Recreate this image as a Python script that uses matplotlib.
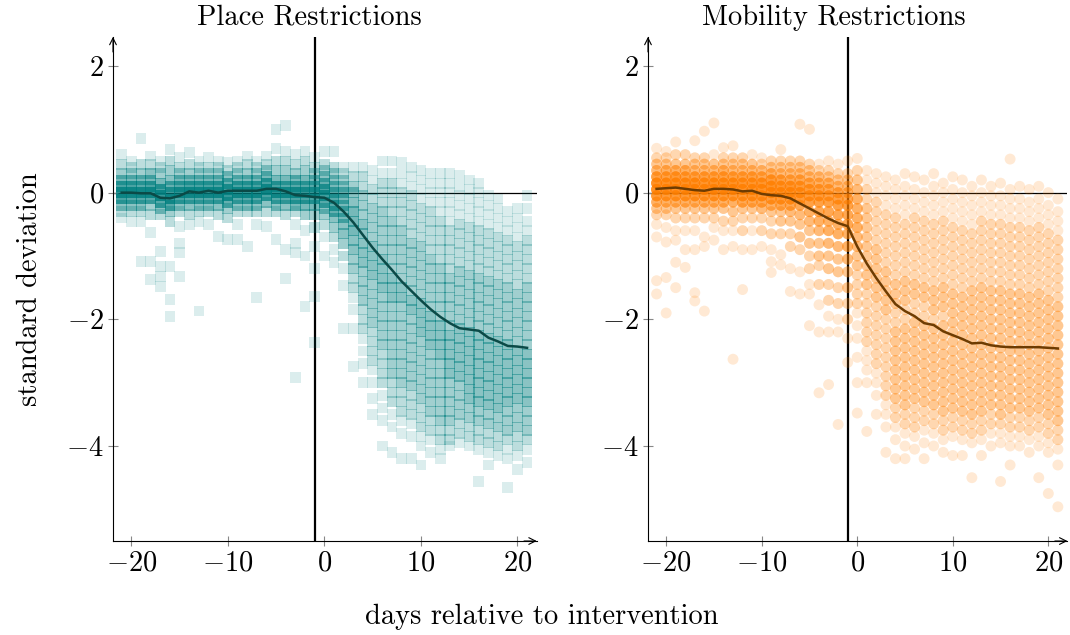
import matplotlib
matplotlib.use("Agg")
import matplotlib.pyplot as plt

plt.rcParams["font.family"] = "cmr10"
plt.rcParams["mathtext.fontset"] = "cm"
plt.rcParams["axes.unicode_minus"] = False

days = list(range(-21, 22))

# (value, how many overlapping marks at that value), one row per day -21..21
place_points = [
    [(0.6, 1), (0.45, 2), (0.3, 3), (0.2, 5), (0.1, 8), (0.0, 10), (-0.1, 8), (-0.2, 4), (-0.3, 2), (-0.4, 1)],
    [(0.5, 1), (0.4, 2), (0.3, 3), (0.2, 5), (0.1, 8), (0.0, 10), (-0.1, 7), (-0.2, 4), (-0.3, 2), (-0.45, 1)],
    [(0.86, 1), (0.45, 2), (0.3, 3), (0.2, 5), (0.1, 7), (0.0, 10), (-0.1, 7), (-0.2, 4), (-0.3, 2), (-0.45, 1), (-1.09, 1)],
    [(0.58, 1), (0.45, 2), (0.3, 4), (0.2, 5), (0.1, 8), (0.0, 10), (-0.1, 7), (-0.2, 3), (-0.35, 2), (-0.63, 1), (-1.09, 1), (-1.37, 1)],
    [(0.5, 1), (0.4, 2), (0.3, 3), (0.15, 5), (0.05, 8), (-0.05, 10), (-0.15, 7), (-0.25, 4), (-0.35, 2), (-0.93, 1), (-1.16, 1), (-1.32, 1), (-1.48, 1)],
    [(0.68, 1), (0.5, 2), (0.35, 3), (0.2, 4), (0.1, 6), (0.0, 8), (-0.1, 10), (-0.2, 7), (-0.3, 3), (-0.45, 2), (-1.16, 1), (-1.69, 1), (-1.95, 1)],
    [(0.55, 1), (0.4, 2), (0.3, 3), (0.2, 5), (0.1, 7), (0.0, 10), (-0.1, 8), (-0.2, 4), (-0.3, 2), (-0.54, 1), (-0.8, 1), (-0.95, 1), (-1.32, 1)],
    [(0.63, 1), (0.45, 2), (0.3, 3), (0.2, 5), (0.1, 8), (0.0, 10), (-0.1, 7), (-0.2, 4), (-0.35, 2), (-0.5, 1)],
    [(0.5, 1), (0.4, 2), (0.3, 3), (0.2, 5), (0.1, 8), (0.0, 10), (-0.1, 7), (-0.2, 4), (-0.3, 2), (-0.45, 1), (-1.87, 1)],
    [(0.55, 1), (0.4, 2), (0.3, 3), (0.2, 5), (0.1, 8), (0.0, 10), (-0.1, 7), (-0.2, 4), (-0.3, 2), (-0.5, 1)],
    [(0.5, 1), (0.4, 2), (0.3, 3), (0.2, 5), (0.1, 8), (0.0, 10), (-0.1, 7), (-0.2, 4), (-0.35, 2), (-0.69, 1)],
    [(0.47, 1), (0.35, 2), (0.25, 4), (0.15, 6), (0.05, 9), (-0.05, 10), (-0.15, 6), (-0.25, 3), (-0.4, 2), (-0.74, 1)],
    [(0.5, 1), (0.4, 2), (0.3, 3), (0.2, 5), (0.1, 8), (0.0, 10), (-0.1, 7), (-0.2, 4), (-0.3, 2), (-0.5, 1), (-0.74, 1)],
    [(0.58, 1), (0.45, 2), (0.3, 3), (0.2, 5), (0.1, 8), (0.0, 10), (-0.1, 7), (-0.2, 4), (-0.3, 2), (-0.85, 1)],
    [(0.5, 1), (0.4, 2), (0.3, 3), (0.2, 5), (0.1, 8), (0.0, 10), (-0.1, 7), (-0.2, 4), (-0.3, 2), (-0.5, 1), (-1.66, 1)],
    [(0.58, 1), (0.45, 2), (0.35, 3), (0.25, 5), (0.15, 8), (0.05, 10), (-0.05, 8), (-0.15, 4), (-0.3, 2), (-0.53, 1)],
    [(1.0, 1), (0.7, 1), (0.5, 2), (0.35, 3), (0.2, 5), (0.1, 8), (0.0, 10), (-0.1, 7), (-0.2, 4), (-0.3, 2), (-0.74, 1)],
    [(1.06, 1), (0.65, 1), (0.5, 2), (0.35, 3), (0.2, 5), (0.1, 7), (0.0, 10), (-0.1, 7), (-0.2, 4), (-0.35, 2), (-0.9, 1), (-1.35, 1)],
    [(0.6, 1), (0.45, 2), (0.3, 3), (0.2, 5), (0.1, 7), (0.0, 10), (-0.1, 8), (-0.2, 5), (-0.3, 2), (-0.5, 1), (-0.8, 1), (-0.95, 1), (-2.92, 1)],
    [(0.65, 1), (0.5, 2), (0.35, 3), (0.2, 5), (0.1, 7), (0.0, 9), (-0.1, 8), (-0.2, 5), (-0.35, 3), (-0.6, 1), (-1.0, 1), (-1.8, 1)],
    [(0.55, 1), (0.4, 2), (0.3, 3), (0.2, 5), (0.1, 7), (0.0, 9), (-0.1, 8), (-0.2, 5), (-0.35, 3), (-0.55, 2), (-0.85, 1), (-1.2, 1), (-1.64, 1), (-2.37, 1)],
    [(0.65, 1), (0.45, 2), (0.35, 3), (0.25, 4), (0.15, 6), (0.05, 8), (-0.05, 9), (-0.15, 7), (-0.25, 4), (-0.35, 3), (-0.5, 2), (-0.7, 1), (-1.0, 1)],
    [(0.65, 1), (0.4, 2), (0.3, 3), (0.2, 4), (0.1, 5), (0.0, 6), (-0.1, 7), (-0.2, 7), (-0.3, 6), (-0.4, 4), (-0.55, 3), (-0.7, 2), (-0.9, 1), (-1.1, 1)],
    [(0.4, 1), (0.3, 2), (0.2, 3), (0.1, 4), (0.0, 5), (-0.1, 5), (-0.2, 5), (-0.3, 5), (-0.4, 5), (-0.5, 4), (-0.65, 4), (-0.8, 3), (-1.0, 2), (-1.2, 1), (-1.47, 1), (-2.15, 1)],
    [(0.4, 1), (0.25, 2), (0.1, 3), (0.0, 4), (-0.15, 4), (-0.3, 5), (-0.45, 5), (-0.6, 5), (-0.75, 4), (-0.9, 4), (-1.05, 3), (-1.2, 3), (-1.35, 2), (-1.5, 2), (-1.65, 1), (-1.85, 1), (-2.15, 1), (-2.74, 1)],
    [(0.4, 1), (0.25, 2), (0.1, 2), (-0.05, 3), (-0.2, 3), (-0.35, 3), (-0.5, 4), (-0.65, 4), (-0.8, 4), (-0.95, 4), (-1.1, 4), (-1.25, 3), (-1.4, 3), (-1.55, 3), (-1.7, 3), (-1.85, 2), (-2.0, 2), (-2.15, 2), (-2.3, 1), (-2.5, 1), (-2.7, 1), (-3.0, 1)],
    [(0.35, 1), (0.2, 1), (0.05, 2), (-0.1, 2), (-0.25, 3), (-0.4, 3), (-0.55, 3), (-0.7, 3), (-0.85, 4), (-1.0, 4), (-1.15, 4), (-1.3, 4), (-1.45, 3), (-1.6, 3), (-1.75, 3), (-1.9, 3), (-2.05, 3), (-2.2, 2), (-2.35, 2), (-2.5, 2), (-2.65, 2), (-2.8, 1), (-3.0, 1), (-3.25, 1), (-3.5, 1)],
    [(0.5, 1), (0.3, 1), (0.15, 2), (0.0, 2), (-0.15, 2), (-0.3, 3), (-0.45, 3), (-0.6, 3), (-0.75, 3), (-0.9, 3), (-1.05, 4), (-1.2, 4), (-1.35, 4), (-1.5, 4), (-1.65, 3), (-1.8, 3), (-1.95, 3), (-2.1, 3), (-2.25, 3), (-2.4, 3), (-2.55, 2), (-2.7, 2), (-2.85, 2), (-3.0, 2), (-3.2, 1), (-3.4, 1), (-3.6, 1), (-4.0, 1)],
    [(0.5, 1), (0.3, 1), (0.15, 2), (0.0, 2), (-0.15, 2), (-0.3, 2), (-0.45, 3), (-0.6, 3), (-0.75, 3), (-0.9, 3), (-1.05, 3), (-1.2, 3), (-1.35, 4), (-1.5, 4), (-1.65, 4), (-1.8, 3), (-1.95, 3), (-2.1, 3), (-2.25, 3), (-2.4, 3), (-2.55, 3), (-2.7, 3), (-2.85, 3), (-3.0, 2), (-3.15, 2), (-3.3, 2), (-3.5, 1), (-3.7, 1), (-4.1, 1)],
    [(0.47, 1), (0.3, 1), (0.15, 1), (0.0, 2), (-0.15, 2), (-0.3, 2), (-0.45, 2), (-0.6, 3), (-0.75, 3), (-0.9, 3), (-1.05, 3), (-1.2, 3), (-1.35, 3), (-1.5, 4), (-1.65, 4), (-1.8, 3), (-1.95, 3), (-2.1, 3), (-2.25, 3), (-2.4, 3), (-2.55, 3), (-2.7, 3), (-2.85, 3), (-3.0, 3), (-3.15, 2), (-3.3, 2), (-3.45, 2), (-3.6, 1), (-3.8, 1), (-4.2, 1)],
    [(0.4, 1), (0.25, 1), (0.1, 1), (-0.05, 2), (-0.2, 2), (-0.35, 2), (-0.5, 2), (-0.65, 2), (-0.8, 3), (-0.95, 3), (-1.1, 3), (-1.25, 3), (-1.4, 3), (-1.55, 3), (-1.7, 4), (-1.85, 4), (-2.0, 3), (-2.15, 3), (-2.3, 3), (-2.45, 3), (-2.6, 3), (-2.75, 3), (-2.9, 3), (-3.05, 3), (-3.2, 2), (-3.35, 2), (-3.5, 2), (-3.65, 1), (-3.85, 1), (-4.2, 1)],
    [(0.35, 1), (0.2, 1), (0.05, 1), (-0.1, 1), (-0.25, 2), (-0.4, 2), (-0.55, 2), (-0.7, 2), (-0.85, 3), (-1.0, 3), (-1.15, 3), (-1.3, 3), (-1.45, 3), (-1.6, 3), (-1.75, 4), (-1.9, 4), (-2.05, 4), (-2.2, 4), (-2.35, 3), (-2.5, 3), (-2.65, 3), (-2.8, 3), (-2.95, 3), (-3.1, 3), (-3.25, 3), (-3.4, 2), (-3.55, 2), (-3.7, 2), (-3.85, 1), (-4.0, 1), (-4.3, 1)],
    [(0.3, 1), (0.15, 1), (0.0, 1), (-0.15, 1), (-0.3, 2), (-0.45, 2), (-0.6, 2), (-0.75, 2), (-0.9, 2), (-1.05, 3), (-1.2, 3), (-1.35, 3), (-1.5, 3), (-1.65, 3), (-1.8, 3), (-1.95, 4), (-2.1, 4), (-2.25, 4), (-2.4, 4), (-2.55, 3), (-2.7, 3), (-2.85, 3), (-3.0, 3), (-3.15, 3), (-3.3, 3), (-3.45, 3), (-3.6, 2), (-3.75, 2), (-3.9, 1), (-4.1, 1)],
    [(0.3, 1), (0.15, 1), (0.0, 1), (-0.15, 1), (-0.3, 1), (-0.45, 2), (-0.6, 2), (-0.75, 2), (-0.9, 2), (-1.05, 2), (-1.2, 3), (-1.35, 3), (-1.5, 3), (-1.65, 3), (-1.8, 3), (-1.95, 3), (-2.1, 4), (-2.25, 4), (-2.4, 4), (-2.55, 4), (-2.7, 3), (-2.85, 3), (-3.0, 3), (-3.15, 3), (-3.3, 3), (-3.45, 3), (-3.6, 3), (-3.75, 2), (-3.9, 2), (-4.05, 1), (-4.2, 1)],
    [(0.3, 1), (0.15, 1), (0.0, 1), (-0.15, 1), (-0.3, 1), (-0.45, 1), (-0.6, 2), (-0.75, 2), (-0.9, 2), (-1.05, 2), (-1.2, 2), (-1.35, 3), (-1.5, 3), (-1.65, 3), (-1.8, 3), (-1.95, 3), (-2.1, 3), (-2.25, 4), (-2.4, 4), (-2.55, 4), (-2.7, 4), (-2.85, 4), (-3.0, 3), (-3.15, 3), (-3.3, 3), (-3.45, 3), (-3.6, 3), (-3.75, 2), (-3.9, 2), (-4.0, 1)],
    [(0.27, 1), (0.1, 1), (-0.05, 1), (-0.2, 1), (-0.35, 1), (-0.5, 2), (-0.65, 2), (-0.8, 2), (-0.95, 2), (-1.1, 2), (-1.25, 3), (-1.4, 3), (-1.55, 3), (-1.7, 3), (-1.85, 3), (-2.0, 3), (-2.15, 4), (-2.3, 4), (-2.45, 4), (-2.6, 4), (-2.75, 4), (-2.9, 4), (-3.05, 3), (-3.2, 3), (-3.35, 3), (-3.5, 3), (-3.65, 2), (-3.8, 2), (-3.95, 1)],
    [(0.2, 1), (0.05, 1), (-0.1, 1), (-0.25, 1), (-0.4, 1), (-0.55, 2), (-0.7, 2), (-0.85, 2), (-1.0, 2), (-1.15, 2), (-1.3, 3), (-1.45, 3), (-1.6, 3), (-1.75, 3), (-1.9, 3), (-2.05, 3), (-2.2, 4), (-2.35, 4), (-2.5, 4), (-2.65, 4), (-2.8, 4), (-2.95, 4), (-3.1, 4), (-3.25, 4), (-3.4, 3), (-3.55, 3), (-3.7, 2), (-3.85, 2), (-4.0, 1)],
    [(0.15, 1), (0.0, 1), (-0.15, 1), (-0.3, 1), (-0.45, 1), (-0.6, 2), (-0.75, 2), (-0.9, 2), (-1.05, 2), (-1.2, 2), (-1.35, 3), (-1.5, 3), (-1.65, 3), (-1.8, 3), (-1.95, 3), (-2.1, 3), (-2.25, 4), (-2.4, 4), (-2.55, 4), (-2.7, 4), (-2.85, 4), (-3.0, 4), (-3.15, 4), (-3.3, 4), (-3.45, 3), (-3.6, 3), (-3.75, 2), (-3.9, 2), (-4.05, 1), (-4.56, 1)],
    [(-0.05, 1), (-0.2, 1), (-0.35, 1), (-0.5, 1), (-0.65, 2), (-0.8, 2), (-0.95, 2), (-1.1, 2), (-1.25, 2), (-1.4, 3), (-1.55, 3), (-1.7, 3), (-1.85, 3), (-2.0, 3), (-2.15, 3), (-2.3, 4), (-2.45, 4), (-2.6, 4), (-2.75, 4), (-2.9, 4), (-3.05, 4), (-3.2, 4), (-3.35, 4), (-3.5, 3), (-3.65, 3), (-3.8, 2), (-3.95, 2), (-4.1, 1), (-4.3, 1)],
    [(-0.1, 1), (-0.25, 1), (-0.4, 1), (-0.55, 1), (-0.7, 2), (-0.85, 2), (-1.0, 2), (-1.15, 2), (-1.3, 2), (-1.45, 3), (-1.6, 3), (-1.75, 3), (-1.9, 3), (-2.05, 3), (-2.2, 3), (-2.35, 4), (-2.5, 4), (-2.65, 4), (-2.8, 4), (-2.95, 4), (-3.1, 4), (-3.25, 4), (-3.4, 4), (-3.55, 3), (-3.7, 3), (-3.85, 2), (-4.0, 2), (-4.15, 1)],
    [(-0.3, 1), (-0.45, 1), (-0.6, 1), (-0.75, 2), (-0.9, 2), (-1.05, 2), (-1.2, 2), (-1.35, 2), (-1.5, 3), (-1.65, 3), (-1.8, 3), (-1.95, 3), (-2.1, 3), (-2.25, 3), (-2.4, 4), (-2.55, 4), (-2.7, 4), (-2.85, 4), (-3.0, 4), (-3.15, 4), (-3.3, 4), (-3.45, 3), (-3.6, 3), (-3.75, 3), (-3.9, 2), (-4.05, 1), (-4.2, 1), (-4.65, 1)],
    [(-0.25, 1), (-0.4, 1), (-0.55, 1), (-0.7, 1), (-0.85, 2), (-1.0, 2), (-1.15, 2), (-1.3, 2), (-1.45, 2), (-1.6, 3), (-1.75, 3), (-1.9, 3), (-2.05, 3), (-2.2, 3), (-2.35, 3), (-2.5, 4), (-2.65, 4), (-2.8, 4), (-2.95, 4), (-3.1, 4), (-3.25, 4), (-3.4, 3), (-3.55, 3), (-3.7, 3), (-3.85, 2), (-4.0, 2), (-4.15, 1), (-4.37, 1)],
    [(-0.05, 1), (-0.25, 1), (-0.45, 1), (-0.6, 1), (-0.75, 2), (-0.9, 2), (-1.05, 2), (-1.2, 2), (-1.35, 2), (-1.5, 3), (-1.65, 3), (-1.8, 3), (-1.95, 3), (-2.1, 3), (-2.25, 3), (-2.4, 3), (-2.55, 4), (-2.7, 4), (-2.85, 4), (-3.0, 4), (-3.15, 4), (-3.3, 4), (-3.45, 3), (-3.6, 3), (-3.75, 3), (-3.9, 2), (-4.05, 1), (-4.26, 1)],
]

mobility_points = [
    [(0.7, 1), (0.55, 2), (0.45, 3), (0.35, 4), (0.25, 7), (0.15, 10), (0.05, 10), (-0.05, 8), (-0.15, 5), (-0.25, 3), (-0.35, 2), (-0.5, 1), (-0.7, 1), (-1.39, 1), (-1.6, 1)],
    [(0.65, 1), (0.55, 2), (0.45, 3), (0.35, 5), (0.25, 7), (0.15, 10), (0.05, 10), (-0.05, 8), (-0.15, 5), (-0.25, 3), (-0.35, 2), (-0.55, 1), (-0.78, 1), (-1.34, 1), (-1.9, 1)],
    [(0.8, 1), (0.6, 2), (0.45, 3), (0.35, 5), (0.25, 8), (0.15, 10), (0.05, 10), (-0.05, 8), (-0.15, 5), (-0.25, 3), (-0.4, 2), (-0.6, 1), (-0.75, 1), (-1.1, 1), (-1.5, 1)],
    [(0.6, 2), (0.45, 3), (0.35, 5), (0.25, 7), (0.15, 10), (0.05, 10), (-0.05, 8), (-0.15, 5), (-0.25, 3), (-0.4, 2), (-0.6, 1), (-0.9, 1), (-1.18, 1)],
    [(0.82, 1), (0.55, 2), (0.45, 3), (0.35, 4), (0.25, 7), (0.15, 10), (0.05, 10), (-0.05, 8), (-0.15, 5), (-0.25, 3), (-0.4, 2), (-0.6, 1), (-0.9, 1), (-1.58, 1), (-1.71, 1)],
    [(0.97, 1), (0.55, 2), (0.45, 3), (0.35, 4), (0.25, 7), (0.15, 9), (0.05, 10), (-0.05, 8), (-0.15, 5), (-0.25, 3), (-0.4, 2), (-0.7, 1), (-0.85, 1), (-1.87, 1)],
    [(1.1, 1), (0.6, 1), (0.45, 3), (0.35, 4), (0.25, 7), (0.15, 10), (0.05, 10), (-0.05, 8), (-0.15, 5), (-0.25, 3), (-0.4, 2), (-0.55, 1), (-0.75, 1)],
    [(0.71, 1), (0.55, 2), (0.45, 3), (0.35, 5), (0.25, 7), (0.15, 10), (0.05, 10), (-0.05, 8), (-0.15, 5), (-0.25, 3), (-0.45, 2), (-0.6, 1), (-0.9, 1)],
    [(0.74, 1), (0.55, 2), (0.45, 3), (0.35, 4), (0.25, 7), (0.15, 10), (0.05, 10), (-0.05, 8), (-0.15, 5), (-0.3, 3), (-0.45, 2), (-0.6, 1), (-0.85, 1), (-2.63, 1)],
    [(0.55, 2), (0.45, 3), (0.35, 4), (0.25, 7), (0.15, 9), (0.05, 10), (-0.05, 8), (-0.15, 6), (-0.25, 3), (-0.4, 2), (-0.6, 2), (-0.9, 1), (-1.53, 1)],
    [(0.6, 1), (0.45, 3), (0.35, 4), (0.25, 7), (0.15, 9), (0.05, 10), (-0.05, 9), (-0.15, 6), (-0.25, 3), (-0.4, 2), (-0.6, 1), (-0.9, 1)],
    [(0.55, 1), (0.45, 2), (0.35, 4), (0.25, 6), (0.15, 9), (0.05, 10), (-0.05, 9), (-0.15, 6), (-0.25, 4), (-0.4, 2), (-0.6, 2), (-0.85, 1)],
    [(0.5, 2), (0.4, 3), (0.3, 5), (0.2, 8), (0.1, 10), (0.0, 10), (-0.1, 8), (-0.2, 5), (-0.3, 3), (-0.45, 2), (-0.65, 2), (-0.9, 1), (-1.09, 1), (-1.26, 1)],
    [(0.68, 1), (0.5, 2), (0.4, 3), (0.3, 4), (0.2, 7), (0.1, 9), (0.0, 10), (-0.1, 8), (-0.2, 6), (-0.3, 3), (-0.45, 3), (-0.65, 2), (-0.98, 1), (-1.14, 1)],
    [(0.5, 2), (0.4, 3), (0.3, 4), (0.2, 6), (0.1, 9), (0.0, 10), (-0.1, 8), (-0.2, 6), (-0.3, 4), (-0.45, 3), (-0.65, 2), (-0.85, 2), (-1.2, 1), (-1.56, 1)],
    [(1.08, 1), (0.5, 2), (0.4, 3), (0.3, 4), (0.2, 6), (0.1, 8), (0.0, 9), (-0.1, 8), (-0.2, 6), (-0.35, 4), (-0.5, 3), (-0.7, 3), (-0.9, 2), (-1.25, 1), (-1.6, 1)],
    [(1.0, 1), (0.45, 2), (0.35, 3), (0.25, 4), (0.15, 6), (0.05, 8), (-0.05, 8), (-0.15, 7), (-0.3, 5), (-0.45, 4), (-0.6, 3), (-0.8, 3), (-1.0, 2), (-1.2, 2), (-1.45, 1), (-1.6, 1), (-2.1, 1)],
    [(0.45, 1), (0.35, 2), (0.25, 4), (0.15, 5), (0.05, 7), (-0.05, 8), (-0.15, 7), (-0.3, 6), (-0.45, 5), (-0.6, 4), (-0.8, 3), (-1.0, 3), (-1.15, 2), (-1.45, 2), (-1.77, 1), (-2.2, 1), (-3.16, 1)],
    [(0.5, 1), (0.35, 2), (0.25, 3), (0.15, 5), (0.05, 6), (-0.05, 7), (-0.15, 7), (-0.3, 6), (-0.45, 5), (-0.6, 5), (-0.8, 4), (-1.0, 3), (-1.2, 3), (-1.45, 2), (-1.7, 2), (-1.95, 1), (-2.2, 1), (-3.03, 1)],
    [(0.45, 1), (0.3, 2), (0.2, 3), (0.1, 4), (0.0, 6), (-0.1, 7), (-0.2, 7), (-0.35, 6), (-0.5, 5), (-0.65, 5), (-0.85, 4), (-1.05, 3), (-1.25, 3), (-1.5, 2), (-1.75, 2), (-2.0, 1), (-2.2, 1), (-3.66, 1)],
    [(0.5, 1), (0.3, 2), (0.2, 3), (0.1, 4), (0.0, 5), (-0.1, 6), (-0.2, 7), (-0.35, 6), (-0.5, 6), (-0.65, 5), (-0.85, 5), (-1.05, 4), (-1.25, 3), (-1.5, 3), (-1.75, 2), (-2.0, 2), (-2.3, 1), (-2.68, 1)],
    [(0.54, 1), (0.35, 2), (0.2, 3), (0.05, 4), (-0.1, 5), (-0.25, 5), (-0.4, 5), (-0.55, 5), (-0.7, 4), (-0.85, 4), (-1.0, 3), (-1.15, 3), (-1.3, 2), (-1.45, 2), (-1.6, 2), (-1.75, 2), (-1.9, 1), (-2.1, 1), (-2.3, 1), (-2.6, 1), (-3.0, 1), (-3.48, 1)],
    [(0.35, 1), (0.2, 1), (0.05, 2), (-0.1, 2), (-0.25, 3), (-0.4, 3), (-0.55, 3), (-0.7, 3), (-0.85, 3), (-1.0, 3), (-1.15, 3), (-1.3, 3), (-1.45, 3), (-1.6, 2), (-1.75, 2), (-1.9, 2), (-2.05, 2), (-2.2, 2), (-2.35, 2), (-2.5, 1), (-2.65, 1), (-2.8, 1), (-3.0, 1), (-3.77, 1)],
    [(0.3, 1), (0.15, 1), (0.0, 1), (-0.15, 2), (-0.3, 2), (-0.45, 2), (-0.6, 2), (-0.75, 2), (-0.9, 3), (-1.05, 3), (-1.2, 3), (-1.35, 3), (-1.5, 3), (-1.65, 3), (-1.8, 2), (-1.95, 2), (-2.1, 2), (-2.25, 2), (-2.4, 2), (-2.55, 2), (-2.7, 2), (-2.85, 1), (-3.0, 1), (-3.2, 1), (-3.5, 1)],
    [(0.25, 1), (0.1, 1), (-0.05, 1), (-0.2, 1), (-0.35, 2), (-0.5, 2), (-0.65, 2), (-0.8, 2), (-0.95, 2), (-1.1, 2), (-1.25, 3), (-1.4, 3), (-1.55, 3), (-1.7, 3), (-1.85, 3), (-2.0, 2), (-2.15, 2), (-2.3, 2), (-2.45, 2), (-2.6, 2), (-2.75, 2), (-2.9, 2), (-3.05, 2), (-3.2, 2), (-3.35, 1), (-3.5, 1), (-3.7, 1), (-4.1, 1)],
    [(0.2, 1), (0.05, 1), (-0.1, 1), (-0.25, 1), (-0.4, 2), (-0.55, 2), (-0.7, 2), (-0.85, 2), (-1.0, 2), (-1.15, 2), (-1.3, 2), (-1.45, 3), (-1.6, 3), (-1.75, 3), (-1.9, 2), (-2.05, 2), (-2.2, 3), (-2.35, 3), (-2.5, 3), (-2.65, 3), (-2.8, 3), (-2.95, 3), (-3.1, 3), (-3.25, 3), (-3.4, 2), (-3.55, 2), (-3.7, 1), (-3.9, 1), (-4.2, 1)],
    [(0.3, 1), (0.1, 1), (-0.05, 1), (-0.2, 1), (-0.35, 1), (-0.5, 2), (-0.65, 2), (-0.8, 2), (-0.95, 2), (-1.1, 2), (-1.25, 2), (-1.4, 3), (-1.55, 3), (-1.7, 3), (-1.85, 2), (-2.0, 2), (-2.15, 3), (-2.3, 3), (-2.45, 3), (-2.6, 3), (-2.75, 3), (-2.9, 3), (-3.05, 3), (-3.2, 3), (-3.35, 3), (-3.5, 2), (-3.65, 2), (-3.8, 1), (-4.0, 1), (-4.2, 1)],
    [(0.25, 1), (0.05, 1), (-0.1, 1), (-0.25, 1), (-0.4, 2), (-0.55, 2), (-0.7, 2), (-0.85, 2), (-1.0, 2), (-1.15, 2), (-1.3, 2), (-1.45, 3), (-1.6, 3), (-1.75, 2), (-1.9, 2), (-2.05, 3), (-2.2, 3), (-2.35, 3), (-2.5, 3), (-2.65, 3), (-2.8, 3), (-2.95, 3), (-3.1, 3), (-3.25, 3), (-3.4, 2), (-3.55, 2), (-3.7, 2), (-3.85, 1), (-4.05, 1)],
    [(0.2, 1), (0.0, 1), (-0.15, 1), (-0.3, 1), (-0.45, 2), (-0.6, 2), (-0.75, 2), (-0.9, 2), (-1.05, 2), (-1.2, 2), (-1.35, 2), (-1.5, 3), (-1.65, 3), (-1.8, 2), (-1.95, 2), (-2.1, 3), (-2.25, 3), (-2.4, 3), (-2.55, 3), (-2.7, 3), (-2.85, 3), (-3.0, 3), (-3.15, 3), (-3.3, 3), (-3.45, 2), (-3.6, 2), (-3.75, 1), (-3.95, 1), (-4.2, 1)],
    [(0.3, 1), (0.1, 1), (-0.05, 1), (-0.2, 1), (-0.35, 1), (-0.5, 2), (-0.65, 2), (-0.8, 2), (-0.95, 2), (-1.1, 2), (-1.25, 2), (-1.4, 2), (-1.55, 3), (-1.7, 3), (-1.85, 3), (-2.0, 2), (-2.15, 3), (-2.3, 3), (-2.45, 3), (-2.6, 3), (-2.75, 3), (-2.9, 3), (-3.05, 3), (-3.2, 3), (-3.35, 3), (-3.5, 2), (-3.65, 2), (-3.8, 1), (-4.0, 1)],
    [(0.15, 1), (0.0, 1), (-0.15, 1), (-0.3, 1), (-0.45, 2), (-0.6, 2), (-0.75, 2), (-0.9, 2), (-1.05, 2), (-1.2, 2), (-1.35, 2), (-1.5, 3), (-1.65, 3), (-1.8, 3), (-1.95, 2), (-2.1, 3), (-2.25, 3), (-2.4, 3), (-2.55, 3), (-2.7, 3), (-2.85, 3), (-3.0, 3), (-3.15, 3), (-3.3, 3), (-3.45, 3), (-3.6, 2), (-3.75, 2), (-3.9, 1), (-4.1, 1)],
    [(0.25, 1), (0.05, 1), (-0.1, 1), (-0.25, 1), (-0.4, 1), (-0.55, 2), (-0.7, 2), (-0.85, 2), (-1.0, 2), (-1.15, 2), (-1.3, 2), (-1.45, 2), (-1.6, 3), (-1.75, 3), (-1.9, 3), (-2.05, 3), (-2.2, 3), (-2.35, 3), (-2.5, 3), (-2.65, 3), (-2.8, 3), (-2.95, 3), (-3.1, 3), (-3.25, 3), (-3.4, 3), (-3.55, 2), (-3.7, 2), (-3.85, 1), (-4.15, 1)],
    [(0.2, 1), (0.0, 1), (-0.15, 1), (-0.3, 1), (-0.45, 1), (-0.6, 2), (-0.75, 2), (-0.9, 2), (-1.05, 2), (-1.2, 2), (-1.35, 2), (-1.5, 2), (-1.65, 3), (-1.8, 3), (-1.95, 3), (-2.1, 3), (-2.25, 3), (-2.4, 3), (-2.55, 3), (-2.7, 3), (-2.85, 3), (-3.0, 3), (-3.15, 3), (-3.3, 3), (-3.45, 3), (-3.6, 2), (-3.75, 2), (-3.9, 1), (-4.15, 1)],
    [(0.1, 1), (-0.05, 1), (-0.2, 1), (-0.35, 1), (-0.5, 1), (-0.65, 2), (-0.8, 2), (-0.95, 2), (-1.1, 2), (-1.25, 2), (-1.4, 2), (-1.55, 3), (-1.7, 3), (-1.85, 3), (-2.0, 3), (-2.15, 3), (-2.3, 3), (-2.45, 3), (-2.6, 3), (-2.75, 3), (-2.9, 3), (-3.05, 3), (-3.2, 3), (-3.35, 3), (-3.5, 3), (-3.65, 2), (-3.8, 2), (-3.95, 1), (-4.5, 1)],
    [(0.2, 1), (0.0, 1), (-0.15, 1), (-0.3, 1), (-0.45, 2), (-0.6, 2), (-0.75, 2), (-0.9, 2), (-1.05, 2), (-1.2, 2), (-1.35, 2), (-1.5, 3), (-1.65, 3), (-1.8, 3), (-1.95, 3), (-2.1, 3), (-2.25, 3), (-2.4, 3), (-2.55, 3), (-2.7, 3), (-2.85, 3), (-3.0, 3), (-3.15, 3), (-3.3, 3), (-3.45, 3), (-3.6, 2), (-3.75, 2), (-3.9, 1), (-4.15, 1)],
    [(0.1, 1), (-0.05, 1), (-0.2, 1), (-0.35, 1), (-0.5, 2), (-0.65, 2), (-0.8, 2), (-0.95, 2), (-1.1, 2), (-1.25, 2), (-1.4, 2), (-1.55, 3), (-1.7, 3), (-1.85, 3), (-2.0, 3), (-2.15, 3), (-2.3, 3), (-2.45, 3), (-2.6, 3), (-2.75, 3), (-2.9, 3), (-3.05, 3), (-3.2, 3), (-3.35, 3), (-3.5, 2), (-3.65, 2), (-3.8, 1), (-4.0, 1)],
    [(0.15, 1), (-0.05, 1), (-0.2, 1), (-0.35, 1), (-0.5, 2), (-0.65, 2), (-0.8, 2), (-0.95, 2), (-1.1, 2), (-1.25, 2), (-1.4, 2), (-1.55, 3), (-1.7, 3), (-1.85, 3), (-2.0, 3), (-2.15, 3), (-2.3, 3), (-2.45, 3), (-2.6, 3), (-2.75, 3), (-2.9, 3), (-3.05, 3), (-3.2, 3), (-3.35, 3), (-3.5, 3), (-3.65, 2), (-3.8, 1), (-3.95, 1), (-4.56, 1)],
    [(0.53, 1), (0.05, 1), (-0.1, 1), (-0.25, 1), (-0.4, 1), (-0.55, 2), (-0.7, 2), (-0.85, 2), (-1.0, 2), (-1.15, 2), (-1.3, 2), (-1.45, 2), (-1.6, 3), (-1.75, 3), (-1.9, 3), (-2.05, 3), (-2.2, 3), (-2.35, 3), (-2.5, 3), (-2.65, 3), (-2.8, 3), (-2.95, 3), (-3.1, 3), (-3.25, 3), (-3.4, 3), (-3.55, 2), (-3.7, 2), (-3.85, 1), (-4.0, 1), (-4.3, 1)],
    [(0.1, 1), (-0.1, 1), (-0.25, 1), (-0.4, 1), (-0.55, 2), (-0.7, 2), (-0.85, 2), (-1.0, 2), (-1.15, 2), (-1.3, 2), (-1.45, 2), (-1.6, 3), (-1.75, 3), (-1.9, 3), (-2.05, 3), (-2.2, 3), (-2.35, 3), (-2.5, 3), (-2.65, 3), (-2.8, 3), (-2.95, 3), (-3.1, 3), (-3.25, 3), (-3.4, 3), (-3.55, 2), (-3.7, 2), (-3.85, 1), (-4.0, 1)],
    [(0.05, 1), (-0.15, 1), (-0.3, 1), (-0.45, 1), (-0.6, 2), (-0.75, 2), (-0.9, 2), (-1.05, 2), (-1.2, 2), (-1.35, 2), (-1.5, 2), (-1.65, 3), (-1.8, 3), (-1.95, 3), (-2.1, 3), (-2.25, 3), (-2.4, 3), (-2.55, 3), (-2.7, 3), (-2.85, 3), (-3.0, 3), (-3.15, 3), (-3.3, 3), (-3.45, 3), (-3.6, 2), (-3.75, 2), (-3.9, 1), (-4.1, 1)],
    [(0.1, 1), (-0.1, 1), (-0.25, 1), (-0.4, 1), (-0.55, 2), (-0.7, 2), (-0.85, 2), (-1.0, 2), (-1.15, 2), (-1.3, 2), (-1.45, 2), (-1.6, 3), (-1.75, 3), (-1.9, 3), (-2.05, 3), (-2.2, 3), (-2.35, 3), (-2.5, 3), (-2.65, 3), (-2.8, 3), (-2.95, 3), (-3.1, 3), (-3.25, 3), (-3.4, 3), (-3.55, 2), (-3.7, 2), (-3.85, 1), (-4.0, 1), (-4.5, 1)],
    [(0.0, 1), (-0.2, 1), (-0.35, 1), (-0.5, 1), (-0.65, 2), (-0.8, 2), (-0.95, 2), (-1.1, 2), (-1.25, 2), (-1.4, 2), (-1.55, 2), (-1.7, 3), (-1.85, 3), (-2.0, 3), (-2.15, 3), (-2.3, 3), (-2.45, 3), (-2.6, 3), (-2.75, 3), (-2.9, 3), (-3.05, 3), (-3.2, 3), (-3.35, 3), (-3.5, 3), (-3.65, 2), (-3.8, 2), (-3.95, 1), (-4.1, 1), (-4.75, 1)],
    [(-0.1, 1), (-0.3, 1), (-0.45, 1), (-0.6, 1), (-0.75, 2), (-0.9, 2), (-1.05, 2), (-1.2, 2), (-1.35, 2), (-1.5, 2), (-1.65, 2), (-1.8, 3), (-1.95, 3), (-2.1, 3), (-2.25, 3), (-2.4, 3), (-2.55, 3), (-2.7, 3), (-2.85, 3), (-3.0, 3), (-3.15, 3), (-3.3, 3), (-3.45, 3), (-3.6, 3), (-3.75, 2), (-3.9, 2), (-4.05, 1), (-4.3, 1), (-4.96, 1)],
]

place_mean = [0.0, 0.0, -0.01, -0.01, -0.08, -0.09, -0.05, 0.02, 0.0, 0.03, 0.0,
              0.03, 0.03, 0.03, 0.03, 0.06, 0.06, 0.02, -0.04, -0.05, -0.07, -0.08,
              -0.16, -0.30, -0.47, -0.67, -0.87, -1.05, -1.22, -1.40, -1.55, -1.70,
              -1.84, -1.96, -2.06, -2.14, -2.16, -2.18, -2.29, -2.35, -2.42, -2.43, -2.45]

mobility_mean = [0.06, 0.07, 0.08, 0.06, 0.04, 0.03, 0.06, 0.06, 0.05, 0.02, 0.03,
                 -0.02, -0.04, -0.05, -0.09, -0.17, -0.25, -0.33, -0.41, -0.48, -0.53,
                 -0.85, -1.12, -1.35, -1.56, -1.76, -1.87, -1.95, -2.06, -2.09, -2.19,
                 -2.25, -2.31, -2.38, -2.37, -2.41, -2.43, -2.44, -2.44, -2.44, -2.44,
                 -2.45, -2.46]

titles = ["Place Restrictions", "Mobility Restrictions"]
xtick_vals = [-20, -10, 0, 10, 20]
ytick_vals = [2, 0, -2, -4]
intervention_day = -1


def expand(rows):
    xs, ys = [], []
    for d, row in zip(days, rows):
        for y, n in row:
            xs += [d] * n
            ys += [y] * n
    return xs, ys


fig = plt.figure(figsize=(10.7, 6.35), dpi=100)
ax1 = fig.add_axes([0.1056, 0.148, 0.396, 0.794])
ax2 = fig.add_axes([0.6056, 0.148, 0.392, 0.794])

panels = [
    (ax1, place_points, place_mean, "#008080", "s", 60, 0.14, "#0b4a47", 0.2888),
    (ax2, mobility_points, mobility_mean, "#ff8000", "o", 62, 0.17, "#6e3c02", 0.7794),
]

FS = 20.5

for (ax, pts, mean, col, mk, size, alpha, lcol, tx), title in zip(panels, titles):
    ax.axhline(0, color="black", lw=0.9, zorder=1)
    ax.axvline(intervention_day, color="black", lw=1.6, zorder=1)
    xs, ys = expand(pts)
    ax.scatter(xs, ys, s=size, marker=mk, color=col, alpha=alpha,
               edgecolors="none", zorder=2)
    ax.plot(days, mean, color=lcol, lw=1.8, zorder=3)

    ax.set_xlim(-21.9, 22.0)
    ax.set_ylim(-5.5, 2.46)
    ax.spines["top"].set_visible(False)
    ax.spines["right"].set_visible(False)
    for s in ["left", "bottom"]:
        ax.spines[s].set_linewidth(0.8)
    ax.set_xticks(xtick_vals)
    ax.set_xticklabels([f"${v}$" for v in xtick_vals])
    ax.set_yticks(ytick_vals)
    ax.set_yticklabels([f"${v}$" for v in ytick_vals])
    ax.tick_params(direction="inout", length=7, width=0.8, color="#888888",
                   labelsize=FS, pad=3)

    # arrow heads on the axis lines
    ax.annotate("", xy=(1.0, 0), xytext=(0.97, 0), xycoords="axes fraction",
                arrowprops=dict(arrowstyle="->", lw=0.8, color="black",
                                mutation_scale=12, shrinkA=0, shrinkB=0))
    ax.annotate("", xy=(0, 1.0), xytext=(0, 0.97), xycoords="axes fraction",
                arrowprops=dict(arrowstyle="->", lw=0.8, color="black",
                                mutation_scale=12, shrinkA=0, shrinkB=0))

    fig.text(tx, 0.972, title, ha="center", va="center", fontsize=FS)

fig.text(0.028, 0.545, "standard deviation", rotation=90, ha="center",
         va="center", fontsize=FS)
fig.text(0.506, 0.028, "days relative to intervention", ha="center",
         va="center", fontsize=FS)

fig.savefig("out.png", dpi=100)
